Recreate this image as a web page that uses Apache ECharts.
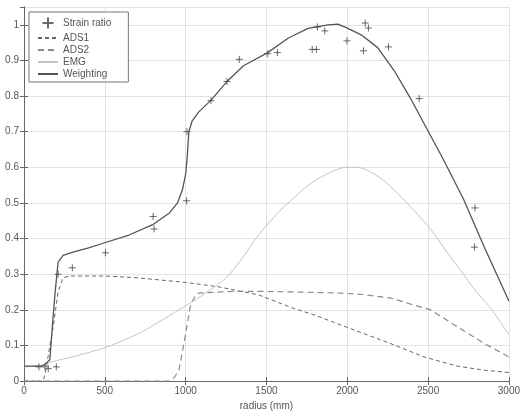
<!DOCTYPE html>
<html><head><meta charset="utf-8">
<script src="https://cdn.jsdelivr.net/npm/echarts@6/dist/echarts.min.js"></script>
<style>html,body{margin:0;padding:0;background:#fff}#c{width:523px;height:416px}</style>
</head><body><div id="c"></div>
<script>
// Strain ratio measurements
const strainX = [92,130,150,200,211,299,504,799,805,1006,1008,1157,1256,1332,1508,1568,1783,1809,1815,1861,1998,2100,2111,2131,2255,2445,2790,2787];
const strainY = [0.04,0.04,0.035,0.04,0.30,0.318,0.36,0.462,0.427,0.506,0.70,0.787,0.841,0.903,0.919,0.922,0.931,0.931,0.994,0.983,0.955,0.927,1.005,0.991,0.938,0.793,0.486,0.376];
// Weighting curve
const weightX = [0,100,125,160,175,191,211,242,303,400,504,650,800,900,950,980,1000,1010,1020,1040,1080,1156,1254,1358,1508,1636,1758,1881,1943,2004,2086,2188,2291,2392,2455,2598,2721,2844,3000];
const weightY = [0.042,0.042,0.045,0.06,0.15,0.242,0.334,0.353,0.362,0.374,0.389,0.41,0.44,0.472,0.50,0.537,0.58,0.63,0.70,0.73,0.755,0.788,0.84,0.885,0.922,0.963,0.99,1.0,1.002,0.99,0.972,0.936,0.871,0.793,0.74,0.619,0.509,0.38,0.225];
// ADS1 curve
const ads1X = [0,120,139,160,180,211,242,280,500,700,1000,1200,1451,1656,1800,2004,2270,2475,2680,2844,3000];
const ads1Y = [0,0,0.04,0.10,0.15,0.25,0.29,0.295,0.295,0.29,0.277,0.265,0.242,0.206,0.185,0.15,0.105,0.068,0.042,0.031,0.024];
// ADS2 curve
const ads2X = [0,900,930,959,1000,1031,1060,1082,1287,1451,1700,1963,2100,2270,2400,2516,2721,2850,3000];
const ads2Y = [0,0,0.01,0.031,0.132,0.215,0.24,0.247,0.252,0.252,0.25,0.247,0.243,0.233,0.215,0.20,0.141,0.105,0.068];
// EMG curve
const emgX = [0,120,180,300,508,693,775,980,1100,1246,1350,1451,1556,1656,1760,1861,1994,2060,2127,2220,2312,2420,2516,2620,2721,2800,2885,3000];
const emgY = [0.04,0.045,0.055,0.068,0.095,0.13,0.15,0.206,0.24,0.288,0.345,0.41,0.465,0.509,0.55,0.578,0.60,0.60,0.591,0.565,0.527,0.475,0.426,0.36,0.298,0.25,0.206,0.13];

const zip = (a,b)=>a.map((v,i)=>[v,b[i]]);
const chart = echarts.init(document.getElementById('c'));
const font = 'Liberation Sans, Arial, sans-serif';
const axisCol = '#666';
const noSym = {opacity:0};
chart.setOption({
  animation:false,
  backgroundColor:'#fff',
  grid:{left:24,right:11,top:7,bottom:28,containLabel:false},
  legend:{
    left:29,top:12,orient:'vertical',
    backgroundColor:'#fff',borderColor:'#777',borderWidth:1,
    padding:[3,17,3,8],itemGap:2,itemWidth:20,itemHeight:11,
    textStyle:{fontSize:10,color:'#555',fontFamily:font},
    data:[
      {name:'Strain ratio'},
      {name:'ADS1',itemStyle:noSym},
      {name:'ADS2',itemStyle:noSym},
      {name:'EMG',itemStyle:noSym},
      {name:'Weighting',itemStyle:noSym}
    ]
  },
  xAxis:[{
    type:'value',min:0,max:3000,interval:500,
    name:'radius (mm)',nameLocation:'middle',nameGap:18,
    nameTextStyle:{fontSize:10,color:'#555',fontFamily:font},
    axisLine:{lineStyle:{color:axisCol}},
    axisTick:{inside:true,length:4,lineStyle:{color:axisCol}},
    axisLabel:{fontSize:10,color:'#555',fontFamily:font,margin:5,formatter:v=>String(v)},
    splitLine:{show:true,lineStyle:{color:'#e2e2e2'}}
  },{
    type:'value',position:'top',min:0,max:3000,interval:500,
    axisLine:{show:true,lineStyle:{color:axisCol}},
    axisTick:{show:true,inside:true,length:4,lineStyle:{color:axisCol}},
    axisLabel:{show:false},splitLine:{show:false}
  }],
  yAxis:[{
    type:'value',min:0,max:1.05,interval:0.1,
    axisLine:{show:true,lineStyle:{color:axisCol}},
    axisTick:{show:true,inside:true,length:4,lineStyle:{color:axisCol}},
    axisLabel:{fontSize:10,color:'#555',fontFamily:font,margin:5,showMaxLabel:false,
      formatter:v=>{const r=Math.round(v*10)/10; return Math.abs(r-v)<1e-6 && v<=1.0001 ? String(r) : '';}},
    splitLine:{show:true,lineStyle:{color:'#e2e2e2'}}
  },{
    type:'value',position:'right',min:0,max:1.05,interval:0.1,
    axisLine:{show:true,lineStyle:{color:axisCol}},
    axisTick:{show:true,inside:true,length:4,lineStyle:{color:axisCol}},
    axisLabel:{show:false},splitLine:{show:false}
  }],
  series:[
    {name:'Strain ratio',type:'scatter',data:zip(strainX,strainY),
     symbol:'path://M4,0L4,8M0,4L8,4',symbolSize:7,z:5,
     itemStyle:{color:'none',borderColor:'#444',borderWidth:1}},
    {name:'ADS1',type:'line',data:zip(ads1X,ads1Y),symbol:'none',smooth:false,
     lineStyle:{color:'#666',width:1,type:[4,3]},itemStyle:{color:'#666'}},
    {name:'ADS2',type:'line',data:zip(ads2X,ads2Y),symbol:'none',smooth:false,
     lineStyle:{color:'#8a8a8a',width:1.2,type:[6,4]},itemStyle:{color:'#8a8a8a'}},
    {name:'EMG',type:'line',data:zip(emgX,emgY),symbol:'none',smooth:0.3,
     lineStyle:{color:'#c4c4c4',width:1},itemStyle:{color:'#c4c4c4'}},
    {name:'Weighting',type:'line',data:zip(weightX,weightY),symbol:'none',smooth:false,z:4,
     lineStyle:{color:'#555',width:1.3},itemStyle:{color:'#555'}}
  ]
});
</script></body></html>
